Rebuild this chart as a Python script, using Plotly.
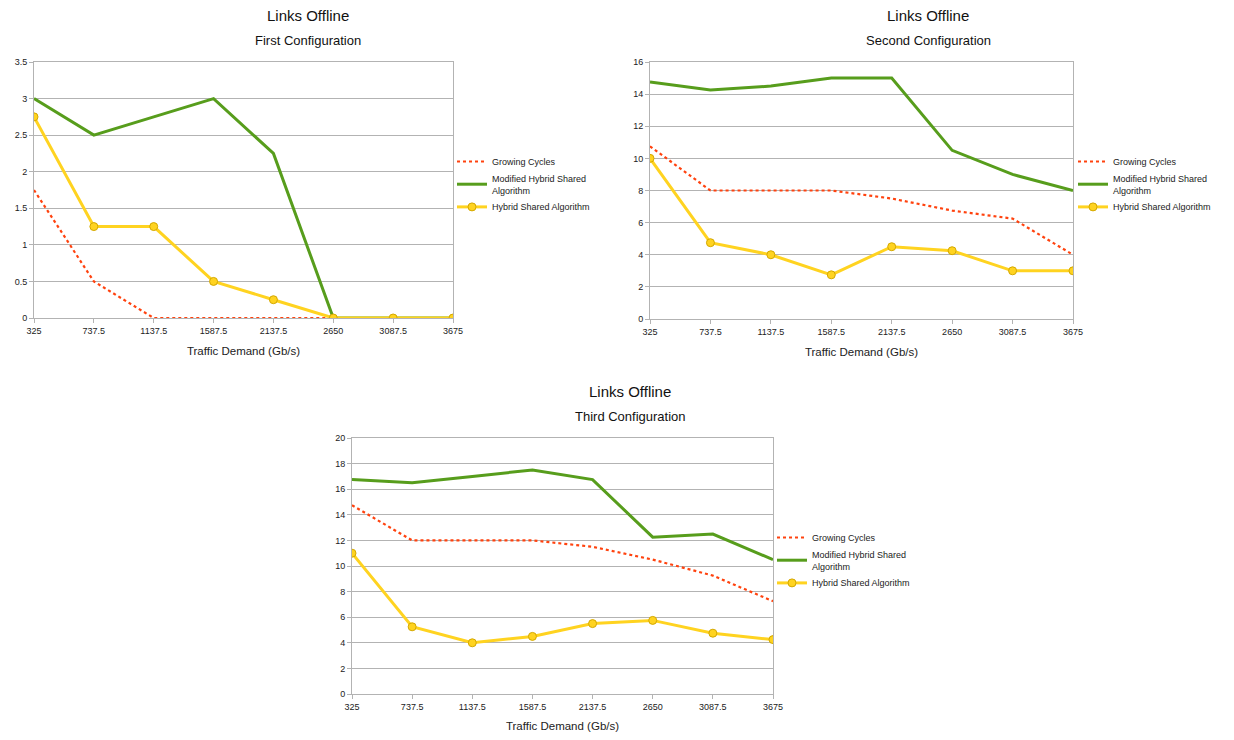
import plotly.graph_objects as go

categories = ["325", "737.5", "1137.5", "1587.5", "2137.5", "2650", "3087.5", "3675"]

series_names = ["Growing Cycles", "Modified Hybrid Shared<br>Algorithm", "Hybrid Shared Algorithm"]

first_growing = [1.75, 0.5, 0, 0, 0, 0, 0, 0]
first_modified = [3, 2.5, 2.75, 3, 2.25, 0, 0, 0]
first_hybrid = [2.75, 1.25, 1.25, 0.5, 0.25, 0, 0, 0]

second_growing = [10.75, 8, 8, 8, 7.5, 6.75, 6.25, 4]
second_modified = [14.75, 14.25, 14.5, 15, 15, 10.5, 9, 8]
second_hybrid = [10, 4.75, 4, 2.75, 4.5, 4.25, 3, 3]

third_growing = [14.75, 12, 12, 12, 11.5, 10.5, 9.25, 7.25]
third_modified = [16.75, 16.5, 17, 17.5, 16.75, 12.25, 12.5, 10.5]
third_hybrid = [11, 5.25, 4, 4.5, 5.5, 5.75, 4.75, 4.25]

subtitles = ["First Configuration", "Second Configuration", "Third Configuration"]
main_title = "Links Offline"
x_title = "Traffic Demand (Gb/s)"

# page body has an 8px margin; figure sized to fit inside the 1234x740 window
OFF = 8
W, H = 1218, 724
FONT = "Liberation Sans, Arial, sans-serif"
C_RED = "#ff420e"
C_GREEN = "#579d1c"
C_YELLOW = "#ffd320"

def px(x):
    return (x - OFF) / W

def py(y):
    return 1 - (y - OFF) / H

# (left, right, top, bottom) window-pixel boxes of plot areas
boxes = [(34, 453, 62, 318), (650, 1073, 62, 319), (352, 773, 438, 694)]
ymax = [3.5, 16, 20]
ydtick = [0.5, 2, 2]
data_sets = [
    (first_growing, first_modified, first_hybrid),
    (second_growing, second_modified, second_hybrid),
    (third_growing, third_modified, third_hybrid),
]
legend_pos = [(452, 147), (1073, 147), (772, 523)]
title_pos = [(308, 15), (928, 15), (630, 391)]

fig = go.Figure()
layout = dict(
    template="none",
    width=W, height=H, margin=dict(l=0, r=0, t=0, b=0, autoexpand=False),
    paper_bgcolor="white", plot_bgcolor="white",
    font=dict(family=FONT, size=9, color="#222"),
    annotations=[],
)

for i in range(3):
    xa = "x" if i == 0 else f"x{i+1}"
    ya = "y" if i == 0 else f"y{i+1}"
    lg = "legend" if i == 0 else f"legend{i+1}"
    g, m, h = data_sets[i]
    fig.add_trace(go.Scatter(x=categories, y=g, name=series_names[0], mode="lines",
                             line=dict(color=C_RED, width=2.2, dash="dot"),
                             xaxis=xa, yaxis=ya, legend=lg))
    fig.add_trace(go.Scatter(x=categories, y=m, name=series_names[1], mode="lines",
                             line=dict(color=C_GREEN, width=3),
                             xaxis=xa, yaxis=ya, legend=lg))
    fig.add_trace(go.Scatter(x=categories, y=h, name=series_names[2], mode="lines+markers",
                             line=dict(color=C_YELLOW, width=3),
                             marker=dict(color=C_YELLOW, size=8, line=dict(color="#d4a800", width=1)),
                             xaxis=xa, yaxis=ya, legend=lg))
    l, r, t, b = boxes[i]
    xkey = "xaxis" if i == 0 else f"xaxis{i+1}"
    ykey = "yaxis" if i == 0 else f"yaxis{i+1}"
    layout[xkey] = dict(
        domain=[px(l), px(r)], anchor=ya, type="category", range=[0, 7], automargin=False,
        showline=True, linecolor="#b3b3b3", linewidth=1, mirror=True, layer="below traces",
        ticks="outside", ticklen=4, tickcolor="#b3b3b3", showgrid=False,
        tickfont=dict(size=9, color="#222"), zeroline=False,
        title=dict(text=x_title, font=dict(size=11.5, color="#222"), standoff=12),
    )
    layout[ykey] = dict(
        domain=[py(b), py(t)], anchor=xa, range=[0, ymax[i]], dtick=ydtick[i], automargin=False,
        showline=True, linecolor="#b3b3b3", linewidth=1, mirror=True, layer="below traces",
        ticks="outside", ticklen=4, tickcolor="#b3b3b3",
        showgrid=True, gridcolor="#b3b3b3", gridwidth=1, zeroline=False,
        tickfont=dict(size=9, color="#222"),
    )
    cx, ty = title_pos[i]
    layout["annotations"].append(dict(text=main_title, x=px(cx), y=py(ty), xref="paper", yref="paper",
                                      showarrow=False, xanchor="center", yanchor="middle",
                                      font=dict(size=15, color="#111")))
    layout["annotations"].append(dict(text=subtitles[i], x=px(cx), y=py(ty + 25), xref="paper", yref="paper",
                                      showarrow=False, xanchor="center", yanchor="middle",
                                      font=dict(size=13, color="#111")))
    lx, ly = legend_pos[i]
    layout[lg] = dict(x=px(lx), y=py(ly), xanchor="left", yanchor="top",
                      bgcolor="rgba(0,0,0,0)", font=dict(size=9, color="#222"),
                      tracegroupgap=0, itemwidth=30)

fig.update_layout(**layout)
fig.write_html("out.html", config={"displayModeBar": False})
